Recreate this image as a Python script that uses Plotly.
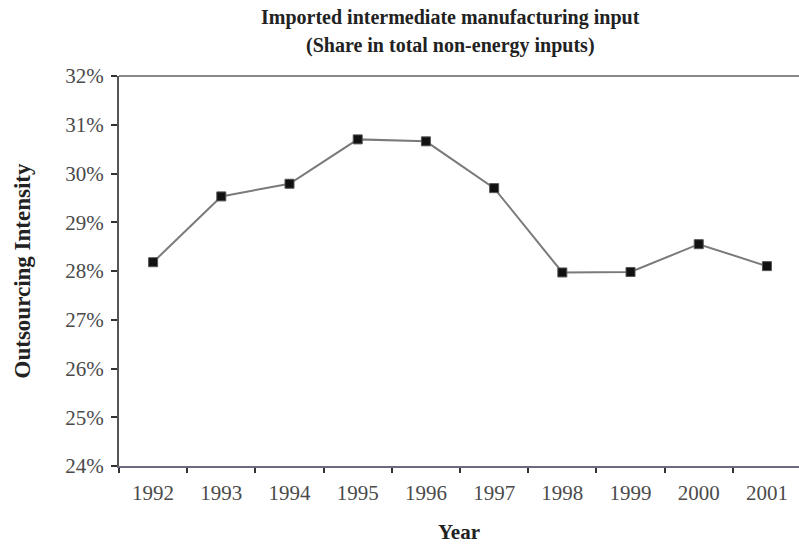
import plotly.graph_objects as go

years = ["1992", "1993", "1994", "1995", "1996", "1997", "1998", "1999", "2000", "2001"]
intensity = [28.18, 29.53, 29.79, 30.70, 30.66, 29.70, 27.97, 27.98, 28.55, 28.10]
y_ticks = [24, 25, 26, 27, 28, 29, 30, 31, 32]
y_tick_labels = [f"{v}%" for v in y_ticks]

serif = "Liberation Serif"

fig = go.Figure()
fig.add_trace(go.Scatter(
    x=years, y=intensity, mode="lines+markers",
    line=dict(color="#7a7a7a", width=2),
    marker=dict(symbol="square", size=9, color="#111111",
                line=dict(color="#555555", width=1)),
    showlegend=False,
))

fig.update_layout(
    width=799, height=544,
    margin=dict(l=119, r=0, t=76, b=78),
    paper_bgcolor="white", plot_bgcolor="white",
    font=dict(family=serif, color="#444444"),
    xaxis=dict(
        type="category", range=[-0.5, 9.47],
        tickson="boundaries", ticks="outside", ticklen=5, tickwidth=1.5, tickcolor="#333333",
        ticklabelstandoff=7,
        showline=True, linecolor="#6a6a80", linewidth=2, mirror=False,
        showgrid=False, zeroline=False,
        tickfont=dict(family=serif, size=21, color="#4a4a4a"),
        title=dict(text="<b>Year</b>", font=dict(family=serif, size=21, color="#222222"), standoff=22),
    ),
    yaxis=dict(
        range=[24, 32], tickvals=y_ticks, ticktext=y_tick_labels,
        ticks="outside", ticklen=6, tickwidth=1.5, tickcolor="#333333",
        ticklabelstandoff=3,
        showline=True, linecolor="#555555", linewidth=2,
        showgrid=False, zeroline=False,
        tickfont=dict(family=serif, size=21, color="#4a4a4a"),
        title=dict(text="<b>Outsourcing Intensity</b>", font=dict(family=serif, size=23, color="#222222"), standoff=28),
    ),
    shapes=[dict(type="line", xref="paper", yref="paper", x0=0, x1=1, y0=1, y1=1,
                 line=dict(color="#888888", width=2))],
    annotations=[
        dict(text="<b>Imported intermediate manufacturing input</b>", xref="paper", yref="paper",
             x=(450 - 119) / 680, y=1, yshift=59, xanchor="center", yanchor="middle", showarrow=False,
             font=dict(family=serif, size=20, color="#222222")),
        dict(text="<b>(Share in total non-energy inputs)</b>", xref="paper", yref="paper",
             x=(450 - 119) / 680, y=1, yshift=31, xanchor="center", yanchor="middle", showarrow=False,
             font=dict(family=serif, size=20, color="#222222")),
    ],
)

fig.write_html("out.html", config={"displayModeBar": False},
               post_script="document.body.style.margin='0';document.body.style.overflow='hidden';")
